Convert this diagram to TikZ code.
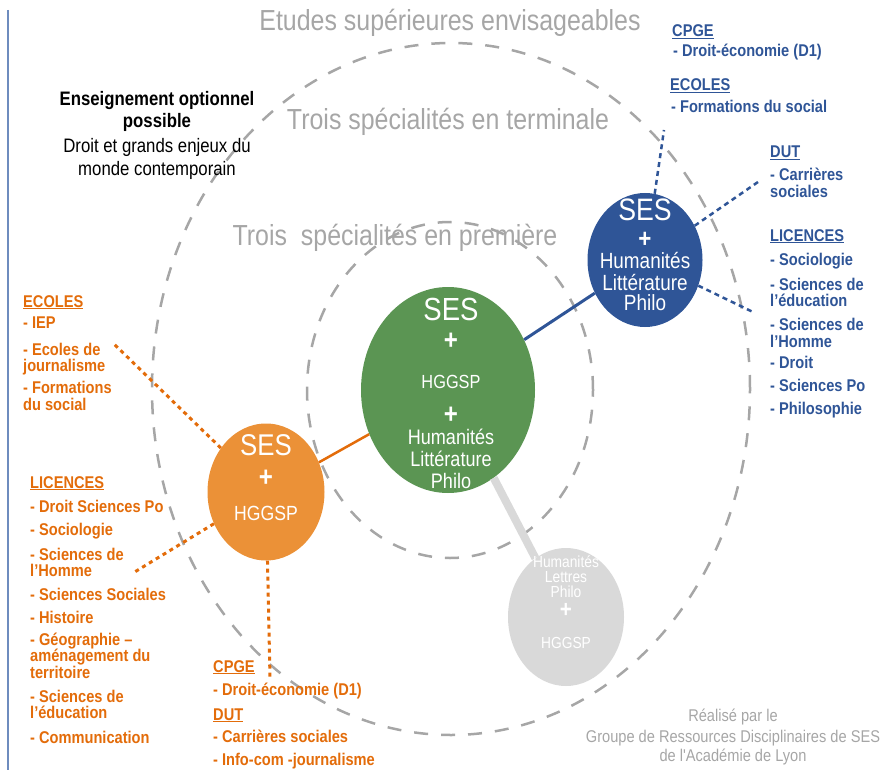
\documentclass[tikz,border=0pt]{standalone}
\usepackage{fontspec}
\usepackage{tikz}
\usetikzlibrary{shapes.geometric}

\newfontfamily\narrowfont{Liberation Sans}[FakeStretch=0.86]
\newcommand{\fsize}[1]{\fontsize{#1}{#1}\selectfont}

\definecolor{SesGreen}{HTML}{5B9553}
\definecolor{SesBlue}{HTML}{2F5597}
\definecolor{SesOrange}{HTML}{EB9137}
\definecolor{OrangeText}{HTML}{E36C0A}
\definecolor{LightGrey}{HTML}{D9D9D9}
\definecolor{TitleGrey}{HTML}{A6A6A6}
\definecolor{BorderBlue}{HTML}{6E8CBE}

\tikzset{
	ring/.style={draw=TitleGrey, line width=2.5pt, dash pattern=on 14pt off 13pt},
	spe/.style={ellipse, inner sep=0pt},
	intext/.style={text=white, font=\narrowfont\fsize{21}, anchor=base},
	plus/.style={text=white, font=\narrowfont\bfseries\fsize{28}, inner sep=0pt},
	titletxt/.style={text=TitleGrey, font=\narrowfont\fsize{29}, anchor=base},
	notetxt/.style={text=black, font=\narrowfont\fsize{19.5}, anchor=base},
	credittxt/.style={text=TitleGrey, font=\narrowfont\fsize{17}, anchor=base},
	bluetxt/.style={text=SesBlue, font=\narrowfont\bfseries\fsize{17}, anchor=base west, inner sep=0pt},
	orangetxt/.style={text=OrangeText, font=\narrowfont\bfseries\fsize{17}, anchor=base west, inner sep=0pt},
	bluedots/.style={SesBlue, line width=2.5pt, dash pattern=on 5pt off 4pt},
	orangedots/.style={OrangeText, line width=3pt, dash pattern=on 4pt off 4pt}
}

\begin{document}
\begin{tikzpicture}[x=1pt, y=-1pt]
	%\draw [help lines, step=10, gray] (0,0) grid (883, 770);
	\useasboundingbox (0,0) rectangle (883,770);

	\draw [BorderBlue, line width=2pt] (8,10) -- (8,770);

	%Rings

	\draw [ring] (451,389) ellipse [x radius=299pt, y radius=346pt];
	\draw [ring] (450,390) ellipse [x radius=143pt, y radius=168pt];

	\node (Etudes) [titletxt] at (450,31) {Etudes supérieures envisageables};
	\node (Terminale) [titletxt] at (448,130) {Trois spécialités en terminale};
	\node (Premiere) [titletxt] at (395,245) {Trois\ \ spécialités en première};

	%Specialites

	\node (Green) [spe, fill=SesGreen, minimum width=174pt, minimum height=206pt] at (448,390) {};
	\node (Blue) [spe, fill=SesBlue, minimum width=115pt, minimum height=134pt] at (645,260) {};
	\node (Orange) [spe, fill=SesOrange, minimum width=117pt, minimum height=137pt] at (266,492) {};
	\node (Grey) [spe, fill=LightGrey, minimum width=116pt, minimum height=138pt] at (566,617) {};

	\draw [SesBlue, line width=3pt] (Green) -- (Blue);
	\draw [OrangeText, line width=2.5pt] (Orange) -- (Green);
	\draw [LightGrey, line width=8pt] (Green) -- (Grey);

	\coordinate (BluCpge) at (664,130);
	\coordinate (BluDut) at (758,182);
	\coordinate (BluLic) at (755,313);
	\draw [bluedots] (Blue) -- (BluCpge);
	\draw [bluedots] (Blue) -- (BluDut);
	\draw [bluedots] (Blue) -- (BluLic);

	\coordinate (OrgEcoles) at (113,343);
	\coordinate (OrgLic) at (133,573);
	\coordinate (OrgBas) at (270,678);
	\draw [orangedots] (Orange) -- (OrgEcoles);
	\draw [orangedots] (Orange) -- (OrgLic);
	\draw [orangedots] (Orange) -- (OrgBas);

	%Premiere

	\node (GSes) [intext, font=\narrowfont\fsize{32}] at (451,320) {SES};
	\node (GPlusA) [plus] at (451,341) {+};
	\node (GHggsp) [intext, font=\narrowfont\fsize{19}] at (451,388) {HGGSP};
	\node (GPlusB) [plus] at (451,415) {+};
	\node (GHum) [intext] at (451,444) {Humanités};
	\node (GLit) [intext] at (451,466) {Littérature};
	\node (GPhi) [intext] at (451,488) {Philo};

	%Terminale

	\node (BSes) [intext, font=\narrowfont\fsize{31}] at (645,220) {SES};
	\node (BPlus) [plus, font=\narrowfont\bfseries\fsize{26}] at (645,240) {+};
	\node (BHum) [intext, font=\narrowfont\fsize{22}] at (645,268) {Humanités};
	\node (BLit) [intext, font=\narrowfont\fsize{22}] at (645,290) {Littérature};
	\node (BPhi) [intext, font=\narrowfont\fsize{22}] at (645,310) {Philo};

	\node (OSes) [intext, font=\narrowfont\fsize{30}] at (266,455) {SES};
	\node (OPlus) [plus] at (266,478) {+};
	\node (OHggsp) [intext, font=\narrowfont\fsize{20.5}] at (266,520) {HGGSP};

	\node (GrHum) [intext, font=\narrowfont\fsize{16}] at (566,567) {Humanités};
	\node (GrLet) [intext, font=\narrowfont\fsize{16}] at (566,582) {Lettres};
	\node (GrPhi) [intext, font=\narrowfont\fsize{16}] at (566,597) {Philo};
	\node (GrPlus) [plus, font=\narrowfont\bfseries\fsize{24}] at (566,610) {+};
	\node (GrHggsp) [intext, font=\narrowfont\fsize{16}] at (566,648) {HGGSP};

	%Option

	\node (OptA) [notetxt, font=\narrowfont\bfseries\fsize{19.5}] at (157,106) {Enseignement optionnel};
	\node (OptB) [notetxt, font=\narrowfont\bfseries\fsize{19.5}] at (157,128) {possible};
	\node (OptC) [notetxt] at (157,153) {Droit et grands enjeux du};
	\node (OptD) [notetxt] at (157,176) {monde contemporain};

	%Etudes apres SES + HLP

	\node (BCpge) [bluetxt] at (672,37) {\underline{CPGE}};
	\node (BCpgeA) [bluetxt] at (673,57) {- Droit-économie (D1)};
	\node (BEcoles) [bluetxt] at (670,91) {\underline{ECOLES}};
	\node (BEcolesA) [bluetxt] at (671,113) {- Formations du social};
	\node (BDut) [bluetxt] at (770,158) {\underline{DUT}};
	\node (BDutA) [bluetxt] at (770,181) {- Carrières};
	\node (BDutB) [bluetxt] at (770,198) {sociales};
	\node (BLic) [bluetxt] at (770,241) {\underline{LICENCES}};
	\node (BLicA) [bluetxt] at (770,265) {- Sociologie};
	\node (BLicB) [bluetxt] at (770,290) {- Sciences de};
	\node (BLicC) [bluetxt] at (770,306) {l’éducation};
	\node (BLicD) [bluetxt] at (770,330) {- Sciences de};
	\node (BLicE) [bluetxt] at (770,347) {l’Homme};
	\node (BLicF) [bluetxt] at (770,368) {- Droit};
	\node (BLicG) [bluetxt] at (770,391) {- Sciences Po};
	\node (BLicH) [bluetxt] at (770,414) {- Philosophie};

	%Etudes apres SES + HGGSP

	\node (OEcoles) [orangetxt] at (23,307) {\underline{ECOLES}};
	\node (OEcolesA) [orangetxt] at (23,328) {- IEP};
	\node (OEcolesB) [orangetxt] at (23,355) {- Ecoles de};
	\node (OEcolesC) [orangetxt] at (23,371) {journalisme};
	\node (OEcolesD) [orangetxt] at (23,393) {- Formations};
	\node (OEcolesE) [orangetxt] at (23,410) {du social};

	\node (OLic) [orangetxt] at (30,488) {\underline{LICENCES}};
	\node (OLicA) [orangetxt] at (30,512) {- Droit Sciences Po};
	\node (OLicB) [orangetxt] at (30,535) {- Sociologie};
	\node (OLicC) [orangetxt] at (30,560) {- Sciences de};
	\node (OLicD) [orangetxt] at (30,576) {l’Homme};
	\node (OLicE) [orangetxt] at (30,600) {- Sciences Sociales};
	\node (OLicF) [orangetxt] at (30,623) {- Histoire};
	\node (OLicG) [orangetxt] at (30,645) {- Géographie –};
	\node (OLicH) [orangetxt] at (30,661) {aménagement du};
	\node (OLicI) [orangetxt] at (30,678) {territoire};
	\node (OLicJ) [orangetxt] at (30,702) {- Sciences de};
	\node (OLicK) [orangetxt] at (30,718) {l’éducation};
	\node (OLicL) [orangetxt] at (30,743) {- Communication};

	\node (OCpge) [orangetxt] at (213,672) {\underline{CPGE}};
	\node (OCpgeA) [orangetxt] at (213,695) {- Droit-économie (D1)};
	\node (ODut) [orangetxt] at (213,720) {\underline{DUT}};
	\node (ODutA) [orangetxt] at (213,742) {- Carrières sociales};
	\node (ODutB) [orangetxt] at (213,765) {- Info-com -journalisme};

	%Credits

	\node (CredA) [credittxt] at (733,721) {Réalisé par le};
	\node (CredB) [credittxt] at (733,742) {Groupe de Ressources Disciplinaires de SES};
	\node (CredC) [credittxt] at (733,761) {de l'Académie de Lyon};

\end{tikzpicture}
\end{document}
